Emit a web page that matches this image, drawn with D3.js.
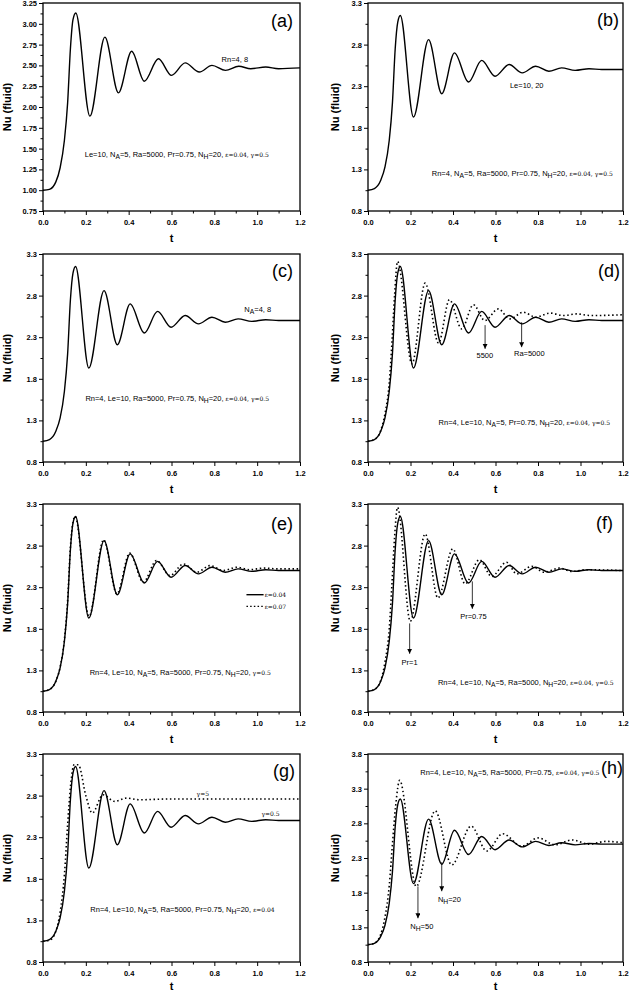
<!DOCTYPE html>
<html>
<head>
<meta charset="utf-8">
<script src="https://cdn.jsdelivr.net/npm/d3@7"></script>
<style>
  body { margin: 0; background: #fff; }
  svg { display: block; }
  text { font-family: "Liberation Sans", Arial, sans-serif; fill: #000; }
</style>
</head>
<body>
<svg id="fig" width="629" height="992"></svg>
<script>
// ---- data (t, Nu) ----
// panel (a), Rn = 4 and 8 (curves coincide)
var tRn  = [0, 0.03, 0.06, 0.08, 0.10, 0.115, 0.128, 0.14, 0.153, 0.219, 0.289, 0.352, 0.414, 0.473, 0.539, 0.60, 0.664, 0.73, 0.789, 0.852, 0.914, 0.97, 1.04, 1.1, 1.2];
var nuRn = [1.00, 1.01, 1.10, 1.27, 1.60, 2.05, 2.70, 3.05, 3.13, 1.89, 2.84, 2.17, 2.67, 2.31, 2.58, 2.38, 2.53, 2.42, 2.50, 2.44, 2.49, 2.46, 2.48, 2.46, 2.47];

// reference solution used in panels (b)-(h)
var tBase  = [0, 0.03, 0.06, 0.08, 0.10, 0.115, 0.128, 0.14, 0.152, 0.214, 0.285, 0.347, 0.407, 0.473, 0.535, 0.598, 0.664, 0.726, 0.789, 0.851, 0.911, 0.975, 1.04, 1.1, 1.2];
var nuBase = [1.05, 1.07, 1.17, 1.33, 1.65, 2.10, 2.75, 3.07, 3.15, 1.93, 2.86, 2.21, 2.70, 2.35, 2.61, 2.42, 2.56, 2.46, 2.54, 2.48, 2.52, 2.49, 2.51, 2.50, 2.50];

// (d) Ra = 5500
var tRa5500  = [0, 0.03, 0.06, 0.08, 0.10, 0.113, 0.125, 0.139, 0.207, 0.269, 0.332, 0.383, 0.441, 0.496, 0.55, 0.613, 0.668, 0.73, 0.79, 0.856, 0.92, 0.98, 1.05, 1.2];
var nuRa5500 = [1.05, 1.07, 1.18, 1.38, 1.75, 2.25, 2.80, 3.21, 1.98, 2.95, 2.23, 2.75, 2.40, 2.69, 2.50, 2.64, 2.52, 2.60, 2.54, 2.59, 2.56, 2.58, 2.56, 2.57];

// (e) epsilon = 0.07
var tEps07  = [0, 0.03, 0.06, 0.08, 0.10, 0.115, 0.128, 0.14, 0.15, 0.215, 0.283, 0.345, 0.405, 0.468, 0.53, 0.593, 0.656, 0.718, 0.78, 0.842, 0.905, 0.967, 1.03, 1.1, 1.2];
var nuEps07 = [1.05, 1.07, 1.17, 1.34, 1.67, 2.14, 2.78, 3.08, 3.15, 1.95, 2.87, 2.22, 2.71, 2.36, 2.62, 2.44, 2.58, 2.48, 2.56, 2.50, 2.54, 2.51, 2.53, 2.52, 2.52];

// (f) Pr = 1
var tPr1  = [0, 0.03, 0.06, 0.08, 0.10, 0.113, 0.125, 0.139, 0.199, 0.269, 0.329, 0.399, 0.457, 0.524, 0.582, 0.652, 0.70, 0.77, 0.83, 0.90, 0.96, 1.03, 1.2];
var nuPr1 = [1.05, 1.07, 1.18, 1.40, 1.80, 2.35, 2.90, 3.26, 1.89, 2.94, 2.17, 2.76, 2.34, 2.63, 2.43, 2.60, 2.46, 2.55, 2.48, 2.53, 2.49, 2.51, 2.50];

// (g) gamma = 5
var tGam5  = [0, 0.03, 0.06, 0.08, 0.10, 0.115, 0.13, 0.145, 0.165, 0.20, 0.23, 0.28, 0.335, 0.39, 0.45, 0.60, 1.2];
var nuGam5 = [1.05, 1.06, 1.17, 1.40, 1.85, 2.45, 2.95, 3.17, 3.17, 2.80, 2.59, 2.81, 2.73, 2.77, 2.75, 2.76, 2.76];

// (h) N_H = 50
var tNH50  = [0, 0.03, 0.06, 0.08, 0.10, 0.115, 0.13, 0.149, 0.227, 0.316, 0.394, 0.485, 0.559, 0.634, 0.723, 0.80, 0.88, 0.96, 1.04, 1.12, 1.2];
var nuNH50 = [1.05, 1.07, 1.20, 1.45, 1.90, 2.50, 3.05, 3.42, 1.89, 2.98, 2.20, 2.76, 2.40, 2.65, 2.47, 2.59, 2.49, 2.56, 2.50, 2.54, 2.52];

var xTicks = [0, 0.2, 0.4, 0.6, 0.8, 1.0, 1.2];

// ---- layout ----
var rowTop = [3, 254, 504, 754], plotH = 208;
var colX = [[43, 300], [368, 623]];
var yTitleX = [7, 335];

var panels = [
    { tag: '(a)', col: 0, row: 0, yDom: [0.75, 3.25], yStep: 0.25, yFmt: '.2f', lab: [-7, 24],
      series: [{ t: tRn, nu: nuRn }],
      texts: [{ t: 0.834, nu: 2.576, s: 'Rn=4, 8' },
              { t: 0.195, nu: 1.424, s: 'Le=10, N_{A}=5, Ra=5000, Pr=0.75, N_{H}=20, $ε=0.04, γ=0.5$' }] },
    { tag: '(b)', col: 1, row: 0, yDom: [0.8, 3.3], yStep: 0.5, yFmt: '.1f', lab: [-4, 23],
      series: [{ t: tBase, nu: nuBase }],
      texts: [{ t: 0.668, nu: 2.31, s: 'Le=10, 20' },
              { t: 0.30, nu: 1.25, s: 'Rn=4, N_{A}=5, Ra=5000, Pr=0.75, N_{H}=20, $ε=0.04, γ=0.5$' }] },
    { tag: '(c)', col: 0, row: 1, yDom: [0.8, 3.3], yStep: 0.5, yFmt: '.1f', lab: [-7, 23],
      series: [{ t: tBase, nu: nuBase }],
      texts: [{ t: 0.94, nu: 2.63, s: 'N_{A}=4, 8' },
              { t: 0.198, nu: 1.56, s: 'Rn=4, Le=10, Ra=5000, Pr=0.75, N_{H}=20, $ε=0.04, γ=0.5$' }] },
    { tag: '(d)', col: 1, row: 1, yDom: [0.8, 3.3], yStep: 0.5, yFmt: '.1f', lab: [-3, 23],
      series: [{ t: tBase, nu: nuBase }, { t: tRa5500, nu: nuRa5500, dot: true }],
      texts: [{ t: 0.332, nu: 1.28, s: 'Rn=4, Le=10, N_{A}=5, Pr=0.75, N_{H}=20, $ε=0.04, γ=0.5$' },
              { t: 0.55, nu: 2.08, s: '5500', anchor: 'middle' },
              { t: 0.687, nu: 2.10, s: 'Ra=5000' }],
      arrows: [{ t: 0.551, from: 2.445, to: 2.16 }, { t: 0.723, from: 2.48, to: 2.18 }] },
    { tag: '(e)', col: 0, row: 2, yDom: [0.8, 3.3], yStep: 0.5, yFmt: '.1f', lab: [-7, 26],
      series: [{ t: tBase, nu: nuBase }, { t: tEps07, nu: nuEps07, dot: true }],
      texts: [{ t: 0.218, nu: 1.28, s: 'Rn=4, Le=10, N_{A}=5, Ra=5000, Pr=0.75, N_{H}=20, $γ=0.5$' },
              { t: 1.035, nu: 2.21, s: '$ε=0.04$' },
              { t: 1.035, nu: 2.07, s: '$ε=0.07$' }],
      legend: [{ t0: 0.95, t1: 1.03, nu: 2.21 }, { t0: 0.95, t1: 1.03, nu: 2.07, dot: true }] },
    { tag: '(f)', col: 1, row: 2, yDom: [0.8, 3.3], yStep: 0.5, yFmt: '.1f', lab: [-10, 25],
      series: [{ t: tBase, nu: nuBase }, { t: tPr1, nu: nuPr1, dot: true }],
      texts: [{ t: 0.329, nu: 1.16, s: 'Rn=4, Le=10, N_{A}=5, Ra=5000, N_{H}=20, $ε=0.04, γ=0.5$' },
              { t: 0.196, nu: 1.39, s: 'Pr=1', anchor: 'middle' },
              { t: 0.496, nu: 1.95, s: 'Pr=0.75', anchor: 'middle' }],
      arrows: [{ t: 0.196, from: 1.865, to: 1.50 }, { t: 0.491, from: 2.37, to: 2.04 }] },
    { tag: '(g)', col: 0, row: 3, yDom: [0.8, 3.3], yStep: 0.5, yFmt: '.1f', lab: [-5, 23],
      series: [{ t: tBase, nu: nuBase }, { t: tGam5, nu: nuGam5, dot: true }],
      texts: [{ t: 0.221, nu: 1.43, s: 'Rn=4, Le=10, N_{A}=5, Ra=5000, Pr=0.75, N_{H}=20, $ε=0.04$' },
              { t: 0.717, nu: 2.83, s: '$γ=5$' },
              { t: 1.02, nu: 2.58, s: '$γ=0.5$' }] },
    { tag: '(h)', col: 1, row: 3, yDom: [0.8, 3.8], yStep: 0.5, yFmt: '.1f', lab: [0, 20],
      series: [{ t: tBase, nu: nuBase }, { t: tNH50, nu: nuNH50, dot: true }],
      texts: [{ t: 0.246, nu: 3.54, s: 'Rn=4, Le=10, N_{A}=5, Ra=5000, Pr=0.75, $ε=0.04, γ=0.5$' },
              { t: 0.199, nu: 1.31, s: 'N_{H}=50' },
              { t: 0.329, nu: 1.70, s: 'N_{H}=20' }],
      arrows: [{ t: 0.235, from: 1.89, to: 1.43 }, { t: 0.347, from: 2.24, to: 1.82 }] }
];

var svg = d3.select('#fig');
var defs = svg.append('defs');
defs.append('marker')
    .attr('id', 'arr')
    .attr('markerUnits', 'userSpaceOnUse')
    .attr('markerWidth', 5).attr('markerHeight', 7)
    .attr('refX', 5).attr('refY', 2.5)
    .attr('orient', 'auto')
  .append('path')
    .attr('d', 'M0,0 L5,2.5 L0,5 Z')
    .attr('fill', '#000');

// text with N_{A} subscripts and $...$ small greek runs
function richText(g, x, y, str, size, anchor) {
    var txt = g.append('text').attr('x', x).attr('y', y).attr('font-size', size)
        .attr('text-anchor', anchor || 'start');
    var parts = str.split(/(_\{[^}]*\}|\$[^$]*\$)/).filter(function(p) { return p.length; });
    var down = false;
    parts.forEach(function(p) {
        var sp = txt.append('tspan');
        var dy = 0;
        if (p.indexOf('_{') == 0) {
            dy = 2; down = true;
            sp.attr('font-size', size * 0.9).text(p.slice(2, -1));
        } else {
            if (down) { dy = -2; down = false; }
            if (p[0] == '$') {
                sp.attr('font-family', '"DejaVu Serif", "Liberation Serif", serif')
                  .attr('font-size', size * 0.8).text(p.slice(1, -1));
            } else {
                sp.text(p);
            }
        }
        if (dy) sp.attr('dy', dy);
    });
    return txt;
}

panels.forEach(function(p, i) {
    var x0 = colX[p.col][0], x1 = colX[p.col][1];
    var top = rowTop[p.row], bot = top + plotH;
    var x = d3.scaleLinear().domain([0, 1.2]).range([x0, x1]);
    var y = d3.scaleLinear().domain(p.yDom).range([bot, top]);
    var g = svg.append('g');

    var yMajor = d3.range(p.yDom[0], p.yDom[1] + 1e-6, p.yStep);
    var yMinor = yMajor.slice(1).map(function(v) { return v - p.yStep / 2; });
    var xMinor = xTicks.slice(1).map(function(v) { return v - 0.1; });

    // axes (ticks outward)
    var gx = g.append('g').attr('transform', 'translate(0,' + bot + ')')
        .call(d3.axisBottom(x).tickValues(xTicks).tickSize(4).tickSizeOuter(0).tickFormat(d3.format('.1f')));
    g.append('g').attr('transform', 'translate(0,' + bot + ')')
        .call(d3.axisBottom(x).tickValues(xMinor).tickSize(2.5).tickFormat(''))
        .select('.domain').remove();
    var gy = g.append('g').attr('transform', 'translate(' + x0 + ',0)')
        .call(d3.axisLeft(y).tickValues(yMajor).tickSize(4).tickSizeOuter(0).tickFormat(d3.format(p.yFmt)));
    g.append('g').attr('transform', 'translate(' + x0 + ',0)')
        .call(d3.axisLeft(y).tickValues(yMinor).tickSize(2.5).tickFormat(''))
        .select('.domain').remove();
    [gx, gy].forEach(function(a) { a.select('.domain').remove(); });
    g.selectAll('.tick line').attr('stroke', '#000').attr('stroke-width', 1);
    g.selectAll('.tick text').attr('font-family', '"Liberation Sans", Arial, sans-serif')
        .attr('font-size', 7.5).attr('font-weight', 'bold').attr('fill', '#000');
    gx.selectAll('.tick text').attr('dy', '0.9em');
    gy.selectAll('.tick text').attr('x', -6);

    // frame
    g.append('rect').attr('x', x0).attr('y', top).attr('width', x1 - x0).attr('height', plotH)
        .attr('fill', 'none').attr('stroke', '#000').attr('stroke-width', 1.3);

    // titles
    g.append('text').attr('x', (x0 + x1) / 2).attr('y', Math.min(bot + 31, 990))
        .attr('text-anchor', 'middle').attr('font-size', 11).attr('font-weight', 'bold').text('t');
    g.append('text')
        .attr('transform', 'translate(' + (yTitleX[p.col] + 4) + ',' + (top + plotH / 2) + ') rotate(-90)')
        .attr('text-anchor', 'middle').attr('font-size', 11).attr('font-weight', 'bold').text('Nu (fluid)');
    g.append('text').attr('x', x1 + p.lab[0]).attr('y', top + p.lab[1])
        .attr('text-anchor', 'end').attr('font-size', 18).text(p.tag);

    // curves
    defs.append('clipPath').attr('id', 'clip' + i)
        .append('rect').attr('x', x0).attr('y', top).attr('width', x1 - x0).attr('height', plotH);
    var line = d3.line().x(function(d) { return x(d[0]); }).y(function(d) { return y(d[1]); })
        .curve(d3.curveMonotoneX);
    var plot = g.append('g').attr('clip-path', 'url(#clip' + i + ')');
    p.series.slice().reverse().forEach(function(s) {
        plot.append('path')
            .attr('d', line(d3.zip(s.t, s.nu)))
            .attr('fill', 'none').attr('stroke', '#000')
            .attr('stroke-width', s.dot ? 1.6 : 1.4)
            .attr('stroke-dasharray', s.dot ? '1.5,2.6' : null);
    });

    (p.legend || []).forEach(function(l) {
        g.append('line').attr('x1', x(l.t0)).attr('x2', x(l.t1)).attr('y1', y(l.nu)).attr('y2', y(l.nu))
            .attr('stroke', '#000').attr('stroke-width', l.dot ? 1.3 : 1.4)
            .attr('stroke-dasharray', l.dot ? '1.5,2.2' : null);
    });

    (p.arrows || []).forEach(function(a) {
        g.append('line').attr('x1', x(a.t)).attr('x2', x(a.t)).attr('y1', y(a.from)).attr('y2', y(a.to))
            .attr('stroke', '#000').attr('stroke-width', 0.8).attr('marker-end', 'url(#arr)');
    });

    p.texts.forEach(function(tx) {
        richText(g, x(tx.t), y(tx.nu) + 2.5, tx.s, 7.5, tx.anchor);
    });
});
</script>
</body>
</html>
